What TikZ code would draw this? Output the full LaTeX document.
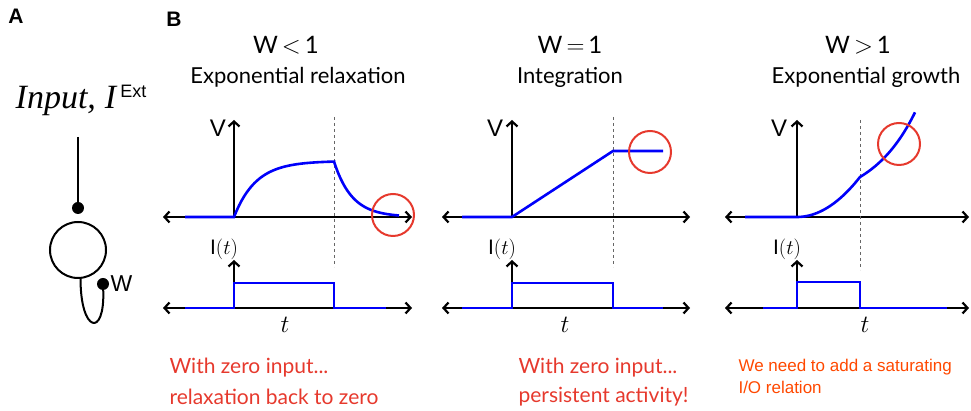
\documentclass[tikz,border=0pt]{standalone}
\usepackage{fontspec}
\setmainfont{Lato}
\newfontfamily\arialfont{Liberation Sans}
\newfontfamily\timesfont{Liberation Serif}
\usetikzlibrary{arrows.meta}
\definecolor{traceblue}{RGB}{0,0,250}
\definecolor{markred}{RGB}{230,57,45}
\definecolor{noteorange}{RGB}{255,72,0}

\begin{document}
\begin{tikzpicture}[x=1pt, y=1pt,
    axis/.style={line width=2.2pt, {Straight Barb[length=5pt,width=11pt]}-{Straight Barb[length=5pt,width=11pt]}},
    vaxis/.style={line width=2.2pt, -{Straight Barb[length=5pt,width=11pt]}},
    trace/.style={traceblue, line width=2.6pt},
    marker/.style={markred, line width=2pt},
    cut/.style={black!60, dashed, line width=0.8pt},
    dotn/.style={circle, fill, inner sep=0pt, minimum size=12pt},
    title/.style={font=\fontsize{24}{26}\selectfont},
    sub/.style={font=\fontsize{22}{24}\selectfont},
    note/.style={markred, anchor=west, font=\fontsize{21}{24}\selectfont},
    lab/.style={font=\arialfont\fontsize{24}{26}\selectfont},
    ilab/.style={font=\fontsize{21}{23}\selectfont},
    tlab/.style={font=\fontsize{23}{25}\selectfont},
    panel/.style={font=\arialfont\bfseries\fontsize{21}{23}\selectfont},
  ]
  \useasboundingbox (0,0) rectangle (971,411);
  % panel A
  \node[panel] (labA) at (16,395) {A};
  \node[font=\timesfont\itshape\fontsize{34}{36}\selectfont] (input) at (81,311)
    {Input,\hspace{9pt}I\hspace{4pt}\raisebox{11pt}{\arialfont\upshape\fontsize{18}{19}\selectfont Ext}};
  \coordinate (inTop) at (78,274);
  \node[dotn] (inDot) at (78,203) {};
  \node[circle, draw, line width=2pt, minimum size=56pt, inner sep=0pt] (cell) at (78,161) {};
  \node[dotn] (wDot) at (103,127) {};
  \node[anchor=west, font=\arialfont\fontsize{23}{25}\selectfont] (wLab) at (107,127) {W};
  \draw[line width=2pt] (inTop) -- (inDot);
  \draw[line width=2pt] (cell.-85) .. controls +(0,-54) and +(2,-54) .. (wDot);
  % panel B
  \node[panel] (labB) at (174,392) {B};
  % W<1
  \node[title] (w1) at (286,366) {W\,$<$\,1};
  \node[sub] (s1) at (298,334) {Exponential relaxation};
  \draw[axis] (163,194) -- (412,194);
  \draw[vaxis] (234,194) -- (234,291);
  \draw[cut] (334,294) -- (334,144);
  \draw[trace] (185,194) -- (234,194)
    -- plot[domain=234:334, samples=40] (\x,{194+56*(1-exp(-(\x-234)/22))})
    -- plot[domain=334:399, samples=30] (\x,{194+55.4*exp(-(\x-334)/18)});
  \node[lab] (v1) at (218,283) {V};
  \draw[axis] (163,103) -- (412,103);
  \draw[vaxis] (234,103) -- (234,151);
  \draw[trace] (185,103) -- (234,103) -- (234,128) -- (334,128) -- (334,103) -- (386,103);
  \node[ilab] (i1) at (224,162) {\arialfont I$(t)$};
  \node[tlab] (t1) at (285,86) {$t$};
  \draw[marker] (393,196) circle (21);
  % W=1
  \node[title] (w2) at (570,366) {W\,$=$\,1};
  \node[sub] (s2) at (570,334) {Integration};
  \draw[axis] (442,194) -- (690,194);
  \draw[vaxis] (512,194) -- (512,291);
  \draw[cut] (613,294) -- (613,144);
  \draw[trace] (462,194) -- (512,194) -- (613,260) -- (663,260);
  \node[lab] (v2) at (495,283) {V};
  \draw[axis] (442,103) -- (690,103);
  \draw[vaxis] (512,103) -- (512,151);
  \draw[trace] (462,103) -- (512,103) -- (512,128) -- (613,128) -- (613,103) -- (663,103);
  \node[ilab] (i2) at (502,162) {\arialfont I$(t)$};
  \node[tlab] (t2) at (565,86) {$t$};
  \draw[marker] (650,259) circle (21);
  % W>1
  \node[title] (w3) at (858,366) {W\,$>$\,1};
  \node[sub] (s3) at (866,334) {Exponential growth};
  \draw[axis] (725,194) -- (969,194);
  \draw[vaxis] (797,194) -- (797,291);
  \draw[cut] (860,291) -- (860,141);
  \draw[trace] (745,194) -- (797,194)
    -- plot[domain=797:860, samples=30] (\x,{194+40*((\x-797)/63)^2})
    -- plot[domain=860:915, samples=30] (\x,{234+27*(exp((\x-860)/45)-1)});
  \node[lab] (v3) at (779,283) {V};
  \draw[axis] (725,103) -- (969,103);
  \draw[vaxis] (797,103) -- (797,151);
  \draw[trace] (763,103) -- (797,103) -- (797,129) -- (860,129) -- (860,103) -- (947,103);
  \node[ilab] (i3) at (787,162) {\arialfont I$(t)$};
  \node[tlab] (t3) at (865,86) {$t$};
  \draw[marker] (899,267) circle (21);
  % notes
  \node[note] (n1a) at (166,43) {With zero input...};
  \node[note] (n1b) at (166,14) {relaxation back to zero};
  \node[note] (n2a) at (515,43) {With zero input...};
  \node[note] (n2b) at (515,14) {persistent activity!};
  \node[note, noteorange, font=\arialfont\fontsize{17}{19}\selectfont] (n3a) at (735,44) {We need to add a saturating};
  \node[note, noteorange, font=\arialfont\fontsize{17}{19}\selectfont] (n3b) at (735,24) {I/O relation};
\end{tikzpicture}
\end{document}
